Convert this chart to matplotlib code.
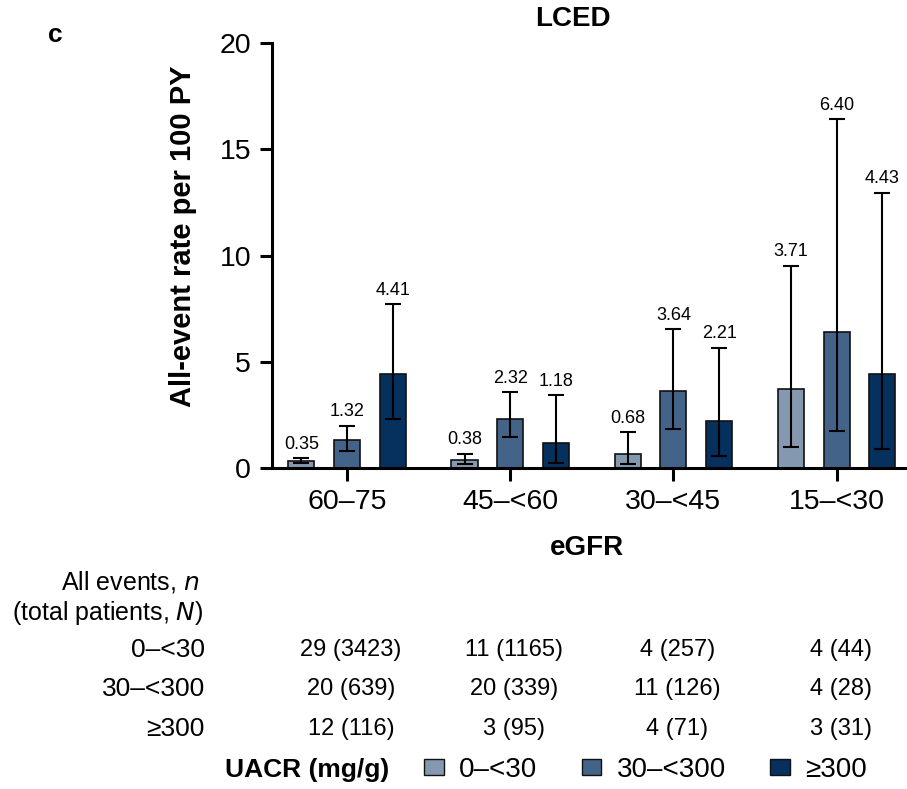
import numpy as np
import matplotlib
matplotlib.use("Agg")
import matplotlib.pyplot as plt
from matplotlib.patches import Patch
from matplotlib.transforms import blended_transform_factory

plt.rcParams['font.family'] = ['Liberation Sans', 'DejaVu Sans']

# data
egfr_groups = ["60\u201375", "45\u2013<60", "30\u2013<45", "15\u2013<30"]
uacr_labels = ["0\u2013<30", "30\u2013<300", "\u2265300"]
colors = ["#8499b0", "#436488", "#06305d"]

rates = [
    [0.35, 0.38, 0.68, 3.71],   # 0-<30
    [1.32, 2.32, 3.64, 6.40],   # 30-<300
    [4.41, 1.18, 2.21, 4.43],   # >=300
]
ci_low = [
    [0.24, 0.20, 0.20, 1.00],
    [0.79, 1.44, 1.82, 1.74],
    [2.29, 0.24, 0.58, 0.89],
]
ci_high = [
    [0.47, 0.67, 1.69, 9.52],
    [1.99, 3.56, 6.53, 16.42],
    [7.70, 3.43, 5.66, 12.96],
]
table_rows = [
    ["29 (3423)", "11 (1165)", "4 (257)", "4 (44)"],
    ["20 (639)", "20 (339)", "11 (126)", "4 (28)"],
    ["12 (116)", "3 (95)", "4 (71)", "3 (31)"],
]


def main():
    fig = plt.figure(figsize=(9.07, 7.89), dpi=100)
    ax = fig.add_axes([0.2999, 0.4068, 0.698, 0.5387])

    x = np.arange(len(egfr_groups))
    offset = 0.28
    width = 0.16
    for i in range(3):
        xi = x + (i - 1) * offset
        r = np.array(rates[i])
        lo = np.array(ci_low[i])
        hi = np.array(ci_high[i])
        ax.bar(xi, r, width, color=colors[i], edgecolor="#111111", linewidth=1.2, zorder=2)
        ax.errorbar(xi, r, yerr=[r - lo, hi - r], fmt="none", ecolor="black",
                    elinewidth=1.5, capsize=6, capthick=1.5, zorder=3)
        for xx, h, v in zip(xi, hi, r):
            ax.text(xx, h + 0.25, f"{v:.2f}", ha="center", va="bottom", fontsize=13)

    ax.set_xlim(-0.46, 3.42)
    ax.set_ylim(0, 20)
    ax.set_yticks([0, 5, 10, 15, 20])
    ax.set_xticks(x)
    ax.set_xticklabels(egfr_groups)
    ax.tick_params(axis="both", labelsize=20.5, width=2.2, length=9, direction="out")
    ax.tick_params(axis="y", pad=6)
    ax.tick_params(axis="x", pad=6)
    for s in ["top", "right"]:
        ax.spines[s].set_visible(False)
    for s in ["left", "bottom"]:
        ax.spines[s].set_linewidth(2.2)
    ax.set_ylabel("All-event rate per 100 PY", fontsize=21, fontweight="bold")
    ax.yaxis.set_label_coords(-0.119, 0.546)
    ax.set_title("LCED", fontsize=20, fontweight="bold", x=0.475, y=1.02)

    fig.text(0.053, 0.956, "c", fontsize=19, fontweight="bold", ha="left", va="center")
    fig.text(0.647, 0.305, "eGFR", fontsize=20, fontweight="bold", ha="center", va="center")

    # table of events
    fig.text(0.22, 0.262, "All events, $\\it{n}$", fontsize=18, ha="right", va="center")
    fig.text(0.224, 0.223, "(total patients, $\\it{N}$)", fontsize=18, ha="right", va="center")
    trans = blended_transform_factory(ax.transData, fig.transFigure)
    row_y = [0.176, 0.127, 0.076]
    for lab, vals, yy in zip(uacr_labels, table_rows, row_y):
        fig.text(0.226, yy, lab, fontsize=19, ha="right", va="center")
        for xx, v in zip(x, vals):
            ax.text(xx + 0.025, yy, v, transform=trans, fontsize=17, ha="center", va="center")

    # legend
    fig.text(0.248, 0.024, "UACR (mg/g)", fontsize=19, fontweight="bold", ha="left", va="center")
    handles = [Patch(facecolor=c, edgecolor="#111111", linewidth=1) for c in colors]
    fig.legend(handles, uacr_labels, loc="center left", bbox_to_anchor=(0.468, 0.024),
               ncol=3, frameon=False, fontsize=20, handlelength=0.7, handleheight=0.5,
               handletextpad=0.55, columnspacing=1.6, borderpad=0, borderaxespad=0)

    fig.savefig("out.png", dpi=100)


if __name__ == "__main__":
    main()
